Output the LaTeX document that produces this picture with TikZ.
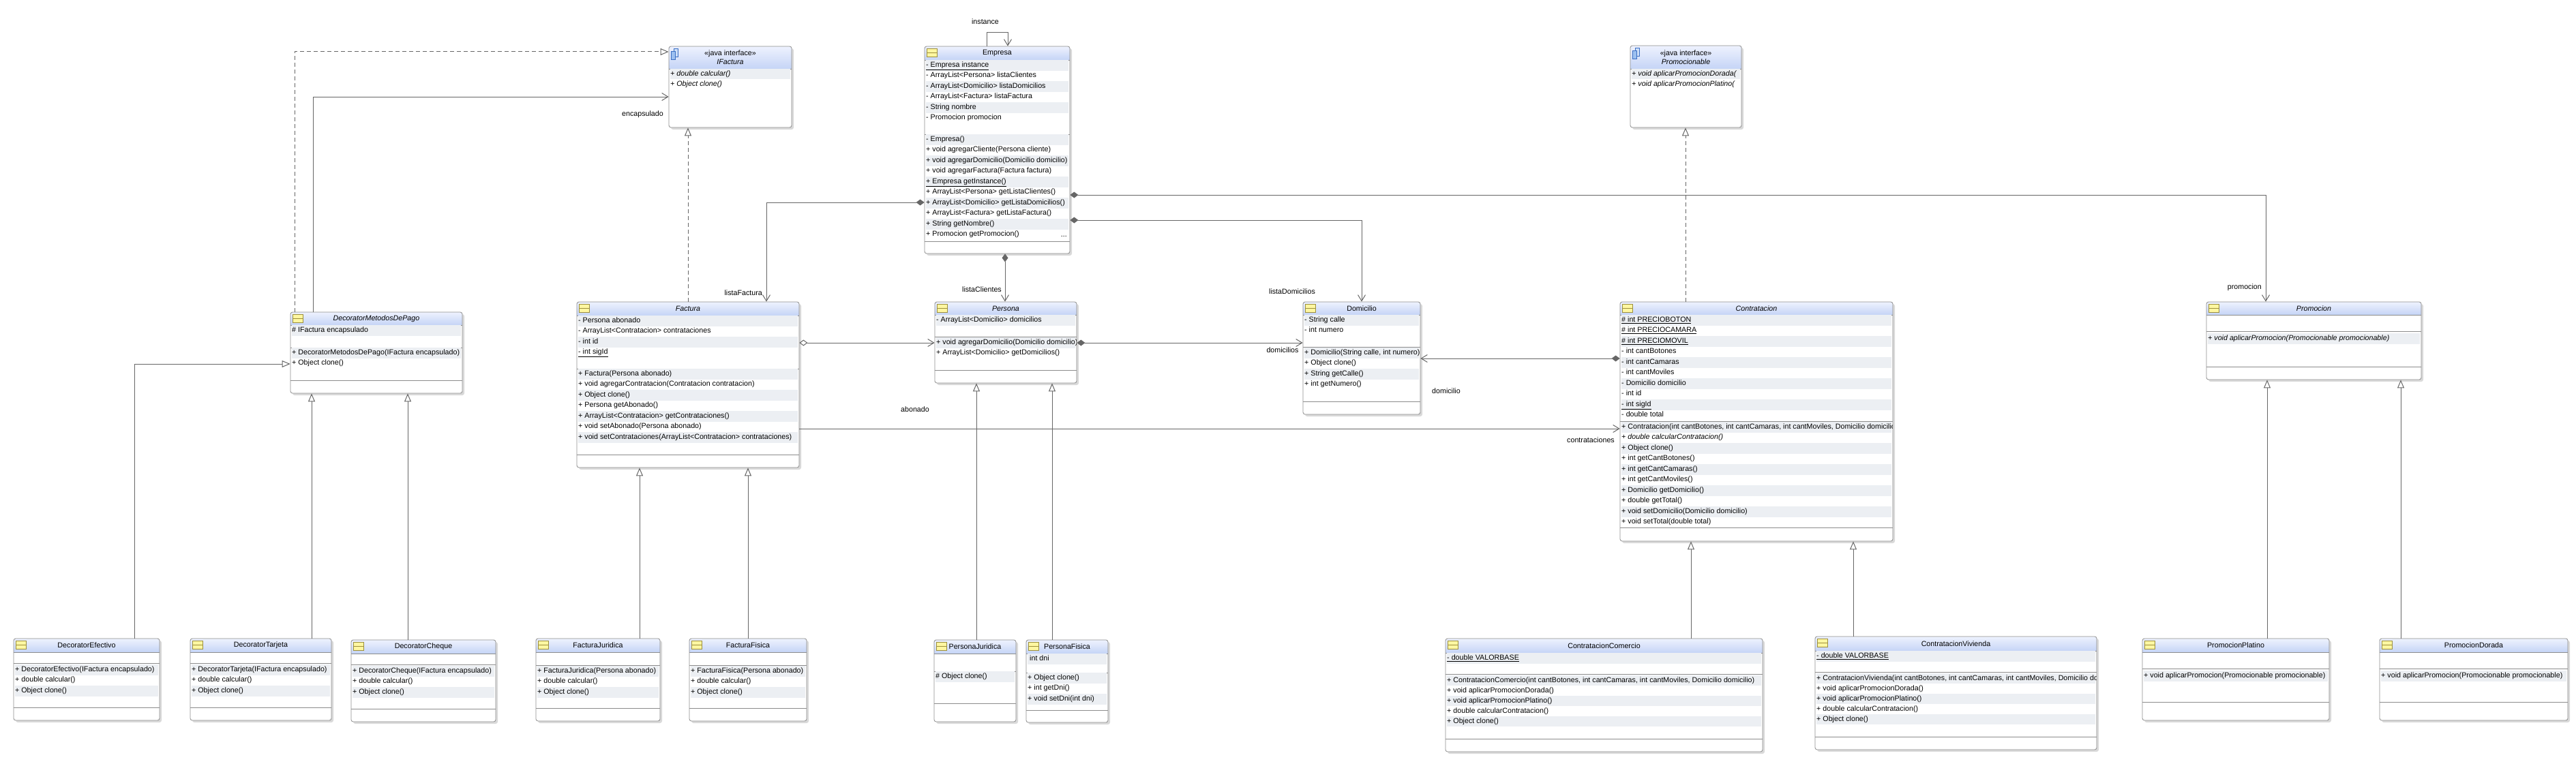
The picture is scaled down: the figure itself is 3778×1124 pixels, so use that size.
\documentclass[tikz,border=0pt]{standalone}
\usepackage{fontspec}
\setmainfont{Liberation Sans}
\usetikzlibrary{arrows.meta}

\definecolor{lineclr}{HTML}{666666}
\definecolor{boxclr}{HTML}{8C8C8C}
\definecolor{hdtop}{HTML}{EEF2FE}
\definecolor{hdbot}{HTML}{C5D4F6}
\definecolor{rowgray}{HTML}{ECEFF3}
\definecolor{iconyel}{HTML}{FFF7A1}
\definecolor{iconedge}{HTML}{9C8F3C}
\definecolor{ifblue}{HTML}{9CC0F0}
\definecolor{ifedge}{HTML}{3B6FC4}

\tikzset{
  rowtext/.style={anchor=west, inner sep=0pt, font=\fontsize{10.7}{12}\selectfont, text height=7.6pt, text depth=2.2pt},
  titletext/.style={inner sep=0pt, align=center, font=\fontsize{10.7}{13}\selectfont},
  lbl/.style={inner sep=0pt, font=\fontsize{10.7}{12}\selectfont},
  sepline/.style={draw=boxclr, line width=0.8pt},
  conn/.style={draw=lineclr, line width=1pt},
  comp/.style={conn, {Diamond[length=12pt,width=9pt]}-{Straight Barb[length=9pt,width=11pt]}},
  aggr/.style={conn, {Diamond[open,length=12pt,width=9pt]}-{Straight Barb[length=9pt,width=11pt]}},
  assoc/.style={conn, -{Straight Barb[length=9pt,width=11pt]}},
  gen/.style={conn, -{Triangle[open,length=12pt,width=10pt]}},
  real/.style={conn, dash pattern=on 6pt off 4pt, -{Triangle[open,length=12pt,width=10pt]}}
}

% box: name, left, top, right, bottom, header, attributes, methods, title
\newcommand\umlbox[9]{%
  \fill[black!15, rounded corners=3pt] ({#2+3},{#3+3}) rectangle ({#4+3},{#5+3});
  \fill[white, rounded corners=3pt] (#2,#3) rectangle (#4,#5);
  \begin{scope}
    \clip[rounded corners=3pt] (#2,#3) rectangle (#4,#5);
    \shade[top color=hdtop, bottom color=hdbot] (#2,#3) rectangle (#4,#6);
  \end{scope}
  \draw[sepline] (#2,#6) -- (#4,#6) (#2,#7) -- (#4,#7) (#2,#8) -- (#4,#8);
  \node[draw=boxclr, line width=0.8pt, rounded corners=3pt, inner sep=0pt,
        minimum width={(#4-#2)*1pt}, minimum height={(#5-#3)*1pt}]
        (#1) at ({(#2+#4)/2},{(#3+#5)/2}) {};
  \node[titletext] at ({(#2+#4)/2},{(#3+#6)/2}) {#9};
}
\newcommand\classicon[2]{%
  \filldraw[fill=iconyel, draw=iconedge, line width=0.6pt] ({#1+3},{#2+3}) rectangle ({#1+18},{#2+15});
  \draw[iconedge, line width=0.6pt] ({#1+3},{#2+9}) -- ({#1+18},{#2+9});
}
\newcommand\ifaceicon[2]{%
  \filldraw[fill=ifblue!50, draw=ifedge, line width=0.6pt] ({#1+7},{#2+3}) rectangle ({#1+13},{#2+15});
  \filldraw[fill=ifblue, draw=ifedge, line width=0.6pt] ({#1+3},{#2+7}) rectangle ({#1+9},{#2+19});
}
\newcommand\umlclass[9]{\umlbox{#1}{#2}{#3}{#4}{#5}{#6}{#7}{#8}{#9}\classicon{#2}{#3}}
\newcommand\umliface[7]{\umlbox{#1}{#2}{#3}{#4}{#5}{#6}{#6}{#6}{#7}\ifaceicon{#2}{#3}}
% rows: left, right, first row top, pitch, texts
\newcommand\umlrows[5]{%
  \begin{scope}
    \clip ({#1+1},{#3-2}) rectangle ({#2-1},{#3+400});
    \foreach \rtxt [count=\k] in {#5}{
      \ifodd\k \fill[rowgray] ({#1+2},{#3+(\k-1)*#4}) rectangle ({#2-2},{#3+\k*#4}); \fi
      \node[rowtext] at ({#1+2},{#3+(\k-0.5)*#4}) {\rtxt};
    }
  \end{scope}
}

\begin{document}
\begin{tikzpicture}[x=1pt,y=-1pt]
  \fill[white] (0,0) rectangle (3778,1124);
  \useasboundingbox (0,0) rectangle (3778,1124);

  %interfaces
  \umliface{ifac}{981}{68}{1161}{187}{101}{«java interface»\\\textit{IFactura}}
  \umlrows{981}{1161}{101}{15}{{\textit{+ double calcular()}},{\textit{+ Object clone()}}}
  \umliface{pmble}{2391}{67}{2554}{187}{101}{«java interface»\\\textit{Promocionable}}
  \umlrows{2391}{2554}{101}{15}{{\textit{+ void aplicarPromocionDorada(}},{\textit{+ void aplicarPromocionPlatino(}}}

  %empresa
  \umlclass{emp}{1356}{68}{1569}{372}{88}{197}{354}{Empresa}
  \umlrows{1356}{1569}{88}{15.5}{{\underline{- Empresa instance}},{- ArrayList<Persona> listaClientes},{- ArrayList<Domicilio> listaDomicilios},{- ArrayList<Factura> listaFactura},{- String nombre},{- Promocion promocion}}
  \umlrows{1356}{1569}{197}{15.5}{{- Empresa()},{+ void agregarCliente(Persona cliente)},{+ void agregarDomicilio(Domicilio domicilio)},{+ void agregarFactura(Factura factura)},{\underline{+ Empresa getInstance()}},{+ ArrayList<Persona> getListaClientes()},{+ ArrayList<Domicilio> getListaDomicilios()},{+ ArrayList<Factura> getListaFactura()},{+ String getNombre()},{+ Promocion getPromocion()}}
  \node[lbl, anchor=east] (empdots) at (1565,347) {...};

  %middle row
  \umlclass{dmp}{426}{458}{678}{577}{477}{510}{558}{\textit{DecoratorMetodosDePago}}
  \umlrows{426}{678}{477}{15.5}{{\# IFactura encapsulado}}
  \umlrows{426}{678}{510}{15.5}{{+ DecoratorMetodosDePago(IFactura encapsulado)},{+ Object clone()}}

  \umlclass{fac}{846}{443}{1172}{686}{463}{541}{667}{\textit{Factura}}
  \umlrows{846}{1172}{463}{15.5}{{- Persona abonado},{- ArrayList<Contratacion> contrataciones},{- int id},{\underline{- int sigId}}}
  \umlrows{846}{1172}{541}{15.5}{{+ Factura(Persona abonado)},{+ void agregarContratacion(Contratacion contratacion)},{+ Object clone()},{+ Persona getAbonado()},{+ ArrayList<Contratacion> getContrataciones()},{+ void setAbonado(Persona abonado)},{+ void setContrataciones(ArrayList<Contratacion> contrataciones)}}

  \umlclass{per}{1371}{443}{1579}{562}{462}{494}{543}{\textit{Persona}}
  \umlrows{1371}{1579}{462}{15.5}{{- ArrayList<Domicilio> domicilios}}
  \umlrows{1371}{1579}{495}{15.5}{{+ void agregarDomicilio(Domicilio domicilio)},{+ ArrayList<Domicilio> getDomicilios()}}

  \umlclass{dom}{1911}{443}{2083}{608}{462}{509}{589}{Domicilio}
  \umlrows{1911}{2083}{462}{15.5}{{- String calle},{- int numero}}
  \umlrows{1911}{2083}{510}{15.5}{{+ Domicilio(String calle, int numero)},{+ Object clone()},{+ String getCalle()},{+ int getNumero()}}

  \umlclass{con}{2376}{443}{2776}{794}{462}{618}{774}{\textit{Contratacion}}
  \umlrows{2376}{2776}{462}{15.5}{{\underline{\# int PRECIOBOTON}},{\underline{\# int PRECIOCAMARA}},{\underline{\# int PRECIOMOVIL}},{- int cantBotones},{- int cantCamaras},{- int cantMoviles},{- Domicilio domicilio},{- int id},{\underline{- int sigId}},{- double total}}
  \umlrows{2376}{2776}{619}{15.5}{{+ Contratacion(int cantBotones, int cantCamaras, int cantMoviles, Domicilio domicilio)},{\textit{+ double calcularContratacion()}},{+ Object clone()},{+ int getCantBotones()},{+ int getCantCamaras()},{+ int getCantMoviles()},{+ Domicilio getDomicilio()},{+ double getTotal()},{+ void setDomicilio(Domicilio domicilio)},{+ void setTotal(double total)}}

  \umlclass{prom}{3236}{443}{3551}{557}{462}{486}{538}{\textit{Promocion}}
  \umlrows{3236}{3551}{489}{15.5}{{\textit{+ void aplicarPromocion(Promocionable promocionable)}}}

  %bottom row
  \umlclass{defe}{20}{937}{234}{1057}{957}{973}{1038}{DecoratorEfectivo}
  \umlrows{20}{234}{975}{15.5}{{+ DecoratorEfectivo(IFactura encapsulado)},{+ double calcular()},{+ Object clone()}}
  \umlclass{dtar}{279}{937}{486}{1057}{957}{973}{1038}{DecoratorTarjeta}
  \umlrows{279}{486}{975}{15.5}{{+ DecoratorTarjeta(IFactura encapsulado)},{+ double calcular()},{+ Object clone()}}
  \umlclass{dche}{515}{939}{727}{1059}{959}{975}{1040}{DecoratorCheque}
  \umlrows{515}{727}{977}{15.5}{{+ DecoratorCheque(IFactura encapsulado)},{+ double calcular()},{+ Object clone()}}
  \umlclass{fjur}{786}{937}{968}{1058}{957}{976}{1039}{FacturaJuridica}
  \umlrows{786}{968}{977}{15.5}{{+ FacturaJuridica(Persona abonado)},{+ double calcular()},{+ Object clone()}}
  \umlclass{ffis}{1011}{937}{1183}{1058}{957}{976}{1039}{FacturaFisica}
  \umlrows{1011}{1183}{977}{15.5}{{+ FacturaFisica(Persona abonado)},{+ double calcular()},{+ Object clone()}}
  \umlclass{pjur}{1370}{939}{1490}{1059}{959}{985}{1032}{PersonaJuridica}
  \umlrows{1370}{1490}{985}{15.5}{{\# Object clone()}}
  \umlclass{pfis}{1505}{939}{1625}{1060}{959}{987}{1042}{PersonaFisica}
  \umlrows{1505}{1625}{959}{15.5}{{\hspace{3pt}int dni}}
  \umlrows{1505}{1625}{987}{15.5}{{+ Object clone()},{+ int getDni()},{+ void setDni(int dni)}}
  \umlclass{ccom}{2120}{937}{2585}{1103}{958}{989}{1084}{ContratacionComercio}
  \umlrows{2120}{2585}{958}{15.5}{{\underline{- double VALORBASE}}}
  \umlrows{2120}{2585}{991}{15}{{+ ContratacionComercio(int cantBotones, int cantCamaras, int cantMoviles, Domicilio domicilio)},{+ void aplicarPromocionDorada()},{+ void aplicarPromocionPlatino()},{+ double calcularContratacion()},{+ Object clone()}}
  \umlclass{cviv}{2662}{934}{3075}{1100}{955}{986}{1081}{ContratacionVivienda}
  \umlrows{2662}{3075}{955}{15.5}{{\underline{- double VALORBASE}}}
  \umlrows{2662}{3075}{988}{15}{{+ ContratacionVivienda(int cantBotones, int cantCamaras, int cantMoviles, Domicilio domicilio)},{+ void aplicarPromocionDorada()},{+ void aplicarPromocionPlatino()},{+ double calcularContratacion()},{+ Object clone()}}
  \umlclass{pplat}{3142}{937}{3416}{1057}{957}{981}{1030}{PromocionPlatino}
  \umlrows{3142}{3416}{984}{15.5}{{+ void aplicarPromocion(Promocionable promocionable)}}
  \umlclass{pdor}{3490}{937}{3766}{1057}{957}{981}{1030}{PromocionDorada}
  \umlrows{3490}{3766}{984}{15.5}{{+ void aplicarPromocion(Promocionable promocionable)}}

  %realizations
  \draw[real] (fac.north -| 1009,0) -- (ifac.south -| 1009,0);
  \draw[real] (dmp.north -| 432,0) |- (ifac.west |- 0,76);
  \draw[real] (con.north -| 2472,0) -- (pmble.south -| 2472,0);

  %generalizations
  \draw[gen] (defe.north -| 197,0) |- (dmp.west |- 0,534);
  \foreach \child/\parent/\px in {dtar/dmp/457,dche/dmp/598,fjur/fac/938,ffis/fac/1097,pjur/per/1432,pfis/per/1543,ccom/con/2480,cviv/con/2718,pplat/prom/3325,pdor/prom/3521}{
    \draw[gen] (\child.north -| \px,0) -- (\parent.south -| \px,0);
  }

  %associations
  \draw[assoc] (emp.north -| 1447,0) |- (1478,48) -- (emp.north -| 1478,0);
  \node[lbl] (instlbl) at (1445,32) {instance};
  \draw[assoc] (dmp.north -| 459,0) |- (ifac.west |- 0,142);
  \node[lbl, anchor=east] (encaplbl) at (973,168) {encapsulado};
  \draw[comp] (emp.west |- 0,297) -| (fac.north -| 1124,0);
  \node[lbl, anchor=east] (factlbl) at (1118,430) {listaFactura};
  \draw[comp] (emp.south -| 1474,0) -- (per.north -| 1474,0);
  \node[lbl, anchor=east] (clilbl) at (1469,425) {listaClientes};
  \draw[comp] (emp.east |- 0,323) -| (dom.north -| 1997,0);
  \node[lbl] (domslbl) at (1895,428) {listaDomicilios};
  \draw[comp] (emp.east |- 0,286) -| (prom.north -| 3323,0);
  \node[lbl, anchor=east] (promlbl) at (3317,422) {promocion};
  \draw[aggr] (fac.east |- 0,503) -- (per.west |- 0,503);
  \node[lbl] (abolbl) at (1342,601) {abonado};
  \draw[comp] (per.east |- 0,503) -- (dom.west |- 0,503);
  \node[lbl] (dmclbl) at (1881,514) {domicilios};
  \draw[comp] (con.west |- 0,526) -- (dom.east |- 0,526);
  \node[lbl] (domlbl) at (2121,574) {domicilio};
  \draw[assoc] (fac.east |- 0,629) -- (con.west |- 0,629);
  \node[lbl] (contlbl) at (2333,646) {contrataciones};
\end{tikzpicture}
\end{document}
